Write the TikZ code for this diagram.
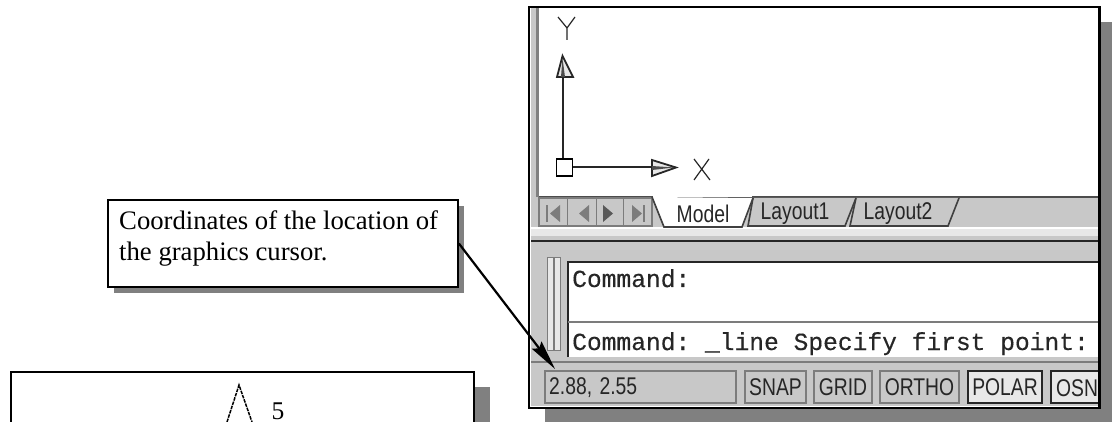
\documentclass[tikz,border=0pt]{standalone}
\usepackage{fontspec}
\setmainfont{Liberation Serif}
\setsansfont{Liberation Sans}
\setmonofont{Liberation Mono}
\usetikzlibrary{arrows.meta}
\definecolor{boxshadow}{HTML}{808080}
\definecolor{panel}{HTML}{C8C8C8}
\definecolor{lightp}{HTML}{E8E8E8}
\definecolor{edge}{HTML}{7C7C7C}
\newcommand{\tallA}[1]{\scalebox{0.92}[1.15]{#1}}
\tikzset{
  x=1pt,y=-1pt,
  frame/.style={draw=black,line width=2.4pt},
  cell/.style={draw=edge,line width=1.8pt,fill=panel},
  pressed/.style={draw=black!85,line width=1.8pt,fill=lightp},
  ui/.style={font=\sffamily\fontsize{21}{22}\selectfont,text=black!85,inner sep=0pt},
  cmd/.style={font=\ttfamily\fontsize{24.6}{25}\selectfont\addfontfeature{FakeBold=0.3},text=black!85,inner sep=0pt,anchor=base west},
  tab/.style={draw=black!75,line width=1.6pt,fill=panel},
  serif/.style={font=\rmfamily\fontsize{26.7}{32}\selectfont,inner sep=0pt,anchor=base west},
  nav/.style={fill=edge,draw=none}
}
\begin{document}
\begin{tikzpicture}
\useasboundingbox (0,0) rectangle (1112,422);
\fill[white] (0,0) rectangle (1112,422);
% window shadow and window
\fill[boxshadow] (545,22) rectangle (1112,422);
\fill[white] (529,7) rectangle (1099,408);
% viewport left strip
\fill[panel] (531,8) rectangle (536,197);
\fill[boxshadow] (536,8) rectangle (539,197);
% tab strip
\fill[panel] (531,197) rectangle (1098,227);
\draw[black!70,line width=1.3pt] (539,197) -- (1098,197);
\fill[lightp] (531,229) rectangle (1098,236);
\fill[panel] (531,236) rectangle (1098,406);
\draw[black!85,line width=2.6pt] (531,241) -- (1098,241);
% nav buttons
\draw[edge,line width=1.6pt,fill=panel] (539,198) rectangle (652,226);
\foreach \xx in {567,596,623} \draw[edge,line width=1pt] (\xx,198) -- (\xx,226);
\fill[nav] (546,205) rectangle (548,222);
\fill[nav] (560,205) -- (560,222) -- (550,213.5) -- cycle;
\fill[nav] (589,205) -- (589,222) -- (579,213.5) -- cycle;
\fill[black!65] (603,205) -- (603,222) -- (613,213.5) -- cycle;
\fill[nav] (632,205) -- (632,222) -- (642,213.5) -- cycle;
\fill[nav] (643,205) rectangle (645,222);
% tabs
\draw[tab] (753,198) -- (748,226) -- (845,226) -- (856,198);
\draw[tab] (856,198) -- (850,226) -- (948,226) -- (959,198);
\draw[black!75,line width=1.6pt,fill=white] (652,197) -- (664,227) -- (742,227) -- (753,198);
\fill[white] (653,196) rectangle (752,197.5);
\node[ui] (tabmodel) at (703,214) {\tallA{Model}};
\node[ui] (tablay1) at (795,214) {\tallA{Layout1}};
\node[ui] (tablay2) at (898,214) {\tallA{Layout2}};
% UCS icon
\node[draw=black,line width=1.8pt,fill=white,minimum width=16pt,minimum height=17pt,inner sep=0pt] (ucs) at (564.5,167.5) {};
\coordinate (ytip) at (562.5,78);
\coordinate (xtip) at (652,167.5);
\draw[black!85,line width=2pt] (ucs.north -| ytip) -- (ytip);
\draw[black!85,line width=2pt] (ucs.east) -- (xtip);
\draw[black!85,line width=1.8pt,fill=lightp] (557,77) -- (562.5,56) -- (573,77) -- cycle;
\fill[black!70] (561,77) -- (562.5,58) -- (565,77) -- cycle;
\draw[black!85,line width=1.8pt,fill=lightp] (652,160) -- (676,167.5) -- (652,176) -- cycle;
\fill[black!70] (652,166) -- (674,167.5) -- (652,170) -- cycle;
% Y and X letters
\draw[black!85,line width=1.2pt] (558,17) -- (567,28) -- (575,17) (567,28) -- (567,40);
\draw[black!85,line width=1.2pt] (694,159) -- (710,180) (709,159) -- (694,180);
% command area
\draw[edge,line width=1pt,fill=lightp] (547,258) rectangle (553,350);
\draw[edge,line width=1pt,fill=lightp] (554,258) rectangle (560,350);
\fill[white] (568,262) rectangle (1098,357);
\draw[black!85,line width=2.2pt] (568,357) -- (568,262) -- (1098,262);
\draw[edge,line width=1.2pt] (568,322) -- (1098,322);
\draw[edge,line width=1.2pt] (531,362) -- (1098,362);
\node[cmd] (cmd1) at (572,287) {Command:};
\node[cmd] (cmd2) at (572,350) {Command: \_line Specify first point:};
% status bar
\node[cell,minimum width=191pt,minimum height=32pt,inner sep=0pt] (coords) at (640.5,387) {};
\node[ui,anchor=west] (coordtext) at (549,388) {\tallA{2.88,\hspace{8pt}2.55}};
\node[cell,minimum width=61pt,minimum height=32pt,ui] (snap) at (775.5,387) {\tallA{SNAP}};
\node[cell,minimum width=58pt,minimum height=32pt,ui] (grid) at (843,387) {\tallA{GRID}};
\node[cell,minimum width=79pt,minimum height=32pt,ui] (ortho) at (919.5,387) {\tallA{ORTHO}};
\node[pressed,minimum width=74pt,minimum height=32pt,ui] (polar) at (1005,387) {\tallA{POLAR}};
\begin{scope}
\clip (1045,365) rectangle (1098,406);
\node[pressed,minimum width=70pt,minimum height=32pt,inner sep=0pt] (osnap) at (1086,387) {};
\node[ui,anchor=west] (osntext) at (1056,388) {\tallA{OSN}};
\end{scope}
\draw[frame] (529,7) rectangle (1099.5,408);
% callout
\fill[boxshadow] (114,206) rectangle (464,293);
\node[draw=black,line width=1.8pt,fill=white,minimum width=350pt,minimum height=87pt,inner sep=0pt] (callout) at (283,243.5) {};
\node[serif] (line1) at (119,230) {Coordinates of the location of};
\node[serif] (line2) at (119,261) {the graphics cursor.};
\coordinate (cursor) at (555,369);
\draw[line width=2.2pt,-{Stealth[length=30pt,width=12pt,inset=4pt]}] (callout.east) -- (cursor);
% lower box
\fill[boxshadow] (30,387) rectangle (490,422);
\fill[white] (11,372) rectangle (474,423);
\draw[black,line width=1.8pt] (11,423) -- (11,372) -- (474,372) -- (474,423);
\draw[black,line width=1.5pt,dash pattern=on 3.5pt off 1pt] (227,422) -- (239,385) -- (252,422);
\node[inner sep=0pt,font=\rmfamily\fontsize{25.5}{28}\selectfont] (five) at (278,411.5) {5};
\end{tikzpicture}
\end{document}
